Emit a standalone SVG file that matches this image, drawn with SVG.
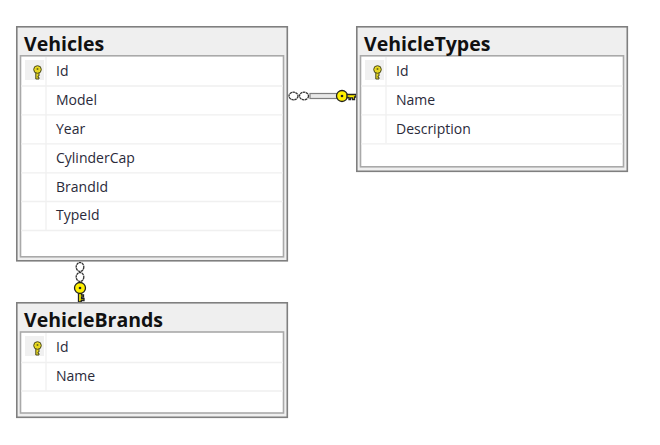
<svg xmlns="http://www.w3.org/2000/svg" width="660" height="445" viewBox="0 0 660 445">
<style>
.outer{fill:#efefef;stroke:#7f7f7f;stroke-width:1.6}
.inner{fill:#fff;stroke:#a9a9a9;stroke-width:1.6}
.sep{stroke:#f0f0f0;stroke-width:1.3;fill:none}
.cell{fill:#f0f0f0}
.title{font:bold 19.500px "Open Sans","Noto Sans",sans-serif;fill:#111}
.row{font:14px "Open Sans","Noto Sans",sans-serif;fill:#2a2a3a}
.kf{fill:#e8d820;stroke:#4a4a20;stroke-width:1}
.kl{fill:#fff000;stroke:#222;stroke-width:1.300}
.ring{fill:#fff;stroke:#333;stroke-width:1.300;stroke-dasharray:2.500 .5}
.rail{stroke:#7f7f7f;stroke-width:1.200;fill:#e8e8e8}
</style>
<defs>
<g id="pk">
<rect class="cell" x="-13" y="-10" width="19" height="20"/>
<path class="kf" d="M-2.200 2V9H1V7.400H0V6H1V2Z"/>
<circle class="kf" cx="-.5" cy="-.5" r="3.800"/>
<circle cx="-.5" cy="-1" r="1" fill="#6a6a20"/>
</g>
</defs>
<g id="connectors">
<g id="conn-types">
<rect class="rail" x="310" y="93.500" width="27" height="5"/>
<ellipse class="ring" cx="293.500" cy="96" rx="4.500" ry="3.800"/>
<ellipse class="ring" cx="304" cy="96" rx="4.500" ry="3.800"/>
<circle class="kl" cx="342" cy="96" r="5.500"/><circle cx="342" cy="96" r="1.300" fill="#222"/>
<path class="kl" d="M347 94.500H356V97H354.500V99.500H352.500V97.800H350.500V99.500H349V97.500H347Z"/>
</g>
<g id="conn-brands">
<ellipse class="ring" cx="80" cy="267" rx="3.800" ry="4.500"/>
<ellipse class="ring" cx="80" cy="277" rx="3.800" ry="4.500"/>
<path class="kl" d="M78.500 292V302H81.200V300.500H84V298.500H81.500V296.800H83.500V295H81.500V292Z"/>
<circle class="kl" cx="80" cy="288" r="5.500"/><circle cx="80" cy="288" r="1.300" fill="#222"/>
</g>
</g>
<g id="Vehicles">
<rect class="outer" x="16.800" y="26.800" width="270.500" height="234"/>
<rect class="inner" x="20.500" y="55.800" width="263" height="201"/>
<path class="sep" d="M21 86H283M21 114.800H283M21 143.800H283M21 172.800H283M21 201.500H283M21 230.500H283M46 57V230"/>
<use href="#pk" x="38" y="70"/>
<text class="title" x="24" y="51">Vehicles</text>
<text class="row" x="56" y="76">Id</text>
<text class="row" x="56" y="105">Model</text>
<text class="row" x="56" y="134">Year</text>
<text class="row" x="56" y="163">CylinderCap</text>
<text class="row" x="56" y="192">BrandId</text>
<text class="row" x="56" y="220">TypeId</text>
</g>
<g id="VehicleTypes">
<rect class="outer" x="356.800" y="26.800" width="270.500" height="144.500"/>
<rect class="inner" x="360.500" y="55.800" width="263" height="111"/>
<path class="sep" d="M361 86H623M361 114.800H623M361 143.800H623M386 57V143"/>
<use href="#pk" x="378" y="70"/>
<text class="title" x="364" y="51">VehicleTypes</text>
<text class="row" x="396" y="76">Id</text>
<text class="row" x="396" y="105">Name</text>
<text class="row" x="396" y="134">Description</text>
</g>
<g id="VehicleBrands">
<rect class="outer" x="16.800" y="302.800" width="270.500" height="114.500"/>
<rect class="inner" x="20.500" y="332" width="263" height="81"/>
<path class="sep" d="M21 362.500H283M21 391H283M46 333V391"/>
<use href="#pk" x="38" y="346"/>
<text class="title" x="24" y="327">VehicleBrands</text>
<text class="row" x="56" y="352">Id</text>
<text class="row" x="56" y="381">Name</text>
</g>
</svg>
